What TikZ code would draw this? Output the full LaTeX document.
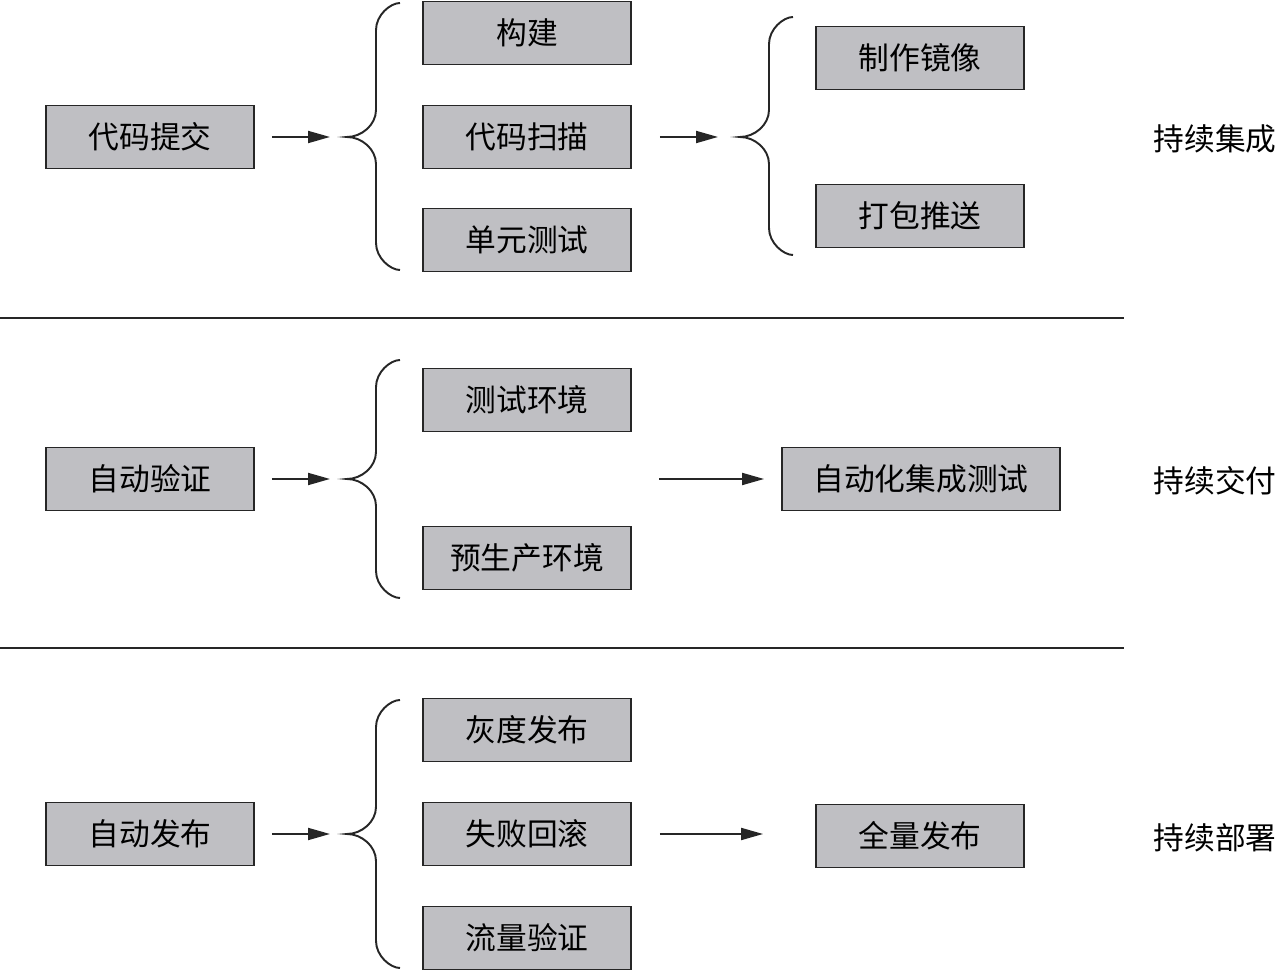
\documentclass[tikz,border=0pt]{standalone}
\usepackage{fontspec}
\setmainfont{Noto Sans CJK SC}
\usepackage{tikz}
\usetikzlibrary{positioning,arrows.meta,calc}
\definecolor{boxgray}{RGB}{191,191,195}
\definecolor{inkgray}{RGB}{38,38,38}
\tikzset{
  stepbox/.style={draw=inkgray,fill=boxgray,line width=1.1pt,minimum width=4.16cm,
    minimum height=1.26cm,inner sep=0pt,font=\fontsize{17.5}{20}\selectfont},
  phase/.style={font=\fontsize{17.5}{20}\selectfont,inner sep=0pt},
  flow/.style={-{Triangle[length=0.44cm,width=0.24cm]},line width=1.1pt,draw=inkgray},
  curb/.style={line width=1.1pt,draw=inkgray},
  sepline/.style={line width=1.1pt,draw=inkgray},
}
% curly brace: vertical at #1, tip at #2, top #3, middle #4, bottom #5, ends at #6
\newcommand{\curlyb}[6]{%
  \draw[curb] (#6,#3) .. controls ($(#1,#3)!0.6!(#6,#3)$) and (#1,#3+12) .. (#1,#3+27)
    -- (#1,#4-27) .. controls (#1,#4-12) and ($(#1,#4)!0.5!(#2,#4)$) .. (#2,#4)
    .. controls ($(#1,#4)!0.5!(#2,#4)$) and (#1,#4+12) .. (#1,#4+27)
    -- (#1,#5-27) .. controls (#1,#5-12) and ($(#1,#5)!0.6!(#6,#5)$) .. (#6,#5);}
\begin{document}
\begin{tikzpicture}[x=0.02cm,y=-0.02cm]
  \useasboundingbox (0,0) rectangle (1276,972);
  % continuous integration
  \node[stepbox] (commit) at (150,137) {代码提交};
  \node[stepbox] (build) at (527,33) {构建};
  \node[stepbox] (scan) at (527,137) {代码扫描};
  \node[stepbox] (utest) at (527,240) {单元测试};
  \node[stepbox] (image) at (920,58) {制作镜像};
  \node[stepbox] (push) at (920,216) {打包推送};
  \coordinate (tipa) at (347,137);
  \coordinate (tipb) at (740,137);
  \curlyb{376}{347}{3}{137}{270}{400}
  \curlyb{769}{740}{17}{137}{255}{793}
  \draw[flow,shorten <=0.34cm,shorten >=0.34cm] (commit.east) -- (tipa);
  \draw[flow,shorten <=0.56cm,shorten >=0.44cm] (scan.east) -- (tipb);
  \node[phase] (ci) at (1215,139) {持续集成};
  \draw[sepline] (0,318) -- (1124,318);
  % continuous delivery
  \node[stepbox] (verify) at (150,479) {自动验证};
  \node[stepbox] (testenv) at (527,400) {测试环境};
  \node[stepbox] (preenv) at (527,558) {预生产环境};
  \node[stepbox,minimum width=5.56cm] (ittest) at (921,479) {自动化集成测试};
  \coordinate (tipc) at (347,479);
  \coordinate (fromc) at (659,479);
  \curlyb{376}{347}{360}{479}{598}{400}
  \draw[flow,shorten <=0.34cm,shorten >=0.34cm] (verify.east) -- (tipc);
  \draw[flow,shorten >=0.34cm] (fromc) -- (ittest.west);
  \node[phase] (cd) at (1215,481) {持续交付};
  \draw[sepline] (0,648) -- (1124,648);
  % continuous deployment
  \node[stepbox] (release) at (150,834) {自动发布};
  \node[stepbox] (gray) at (527,730) {灰度发布};
  \node[stepbox] (rollback) at (527,834) {失败回滚};
  \node[stepbox] (traffic) at (527,938) {流量验证};
  \node[stepbox] (full) at (920,836) {全量发布};
  \coordinate (tipd) at (347,834);
  \curlyb{376}{347}{700}{834}{968}{400}
  \draw[flow,shorten <=0.34cm,shorten >=0.34cm] (release.east) -- (tipd);
  \draw[flow,shorten <=0.56cm,shorten >=1.04cm] (rollback.east) -- (full.west|-rollback.east);
  \node[phase] (cdep) at (1215,838) {持续部署};
\end{tikzpicture}
\end{document}
